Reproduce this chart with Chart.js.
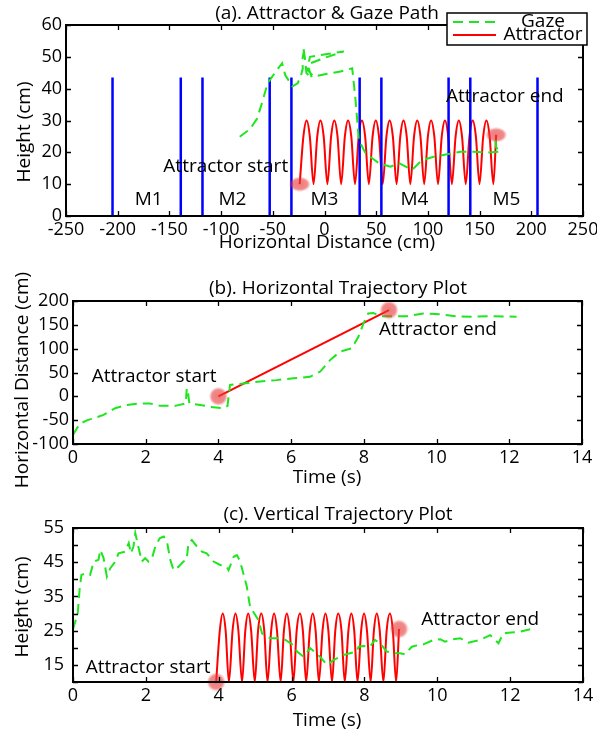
<!DOCTYPE html>
<html>
<head>
<meta charset="utf-8">
<script src="https://cdn.jsdelivr.net/npm/chart.js@4.4.1/dist/chart.umd.min.js"></script>
<style>
  body { margin: 0; background: #fff; }
  canvas { position: absolute; left: 0; }
</style>
</head>
<body>
<canvas id="chartA" width="597" height="255" style="top:0"></canvas>
<canvas id="chartB" width="597" height="240" style="top:255px"></canvas>
<canvas id="chartC" width="597" height="241" style="top:495px"></canvas>
<script>
// (a) attractor & gaze path: horizontal distance (cm) vs height (cm)
const monitorEdges = [-205, -139, -118, -53, -32, 34, 55, 120, 141, 206];
const monitorTop = 43.5;
const monitorNames = ['M1', 'M2', 'M3', 'M4', 'M5'];
const monitorNameX = [-170, -89, 0, 87, 176];

// each arch: trough, shoulder, peak, shoulder
const attractorPathX = [
  -24, -20.4, -17.3, -14.2,   -10.6, -7, -3.9, -0.8,
  2.8, 6.4, 9.5, 12.6,        16.1, 19.7, 22.8, 25.9,
  29.5, 33.1, 36.2, 39.3,     42.9, 46.5, 49.6, 52.7,
  56.3, 59.9, 63, 66.1,       69.7, 73.3, 76.4, 79.5,
  83, 86.6, 89.7, 92.8,       96.4, 100, 103.1, 106.2,
  109.8, 113.4, 116.5, 119.6, 123.2, 126.8, 129.9, 133,
  136.6, 140.2, 143.3, 146.4, 149.9, 153.5, 156.6, 159.7,
  163.3, 166];
const attractorPathY = [
  10, 25, 30, 25,  10, 25, 30, 25,
  10, 25, 30, 25,  10, 25, 30, 25,
  10, 25, 30, 25,  10, 25, 30, 25,
  10, 25, 30, 25,  10, 25, 30, 25,
  10, 25, 30, 25,  10, 25, 30, 25,
  10, 25, 30, 25,  10, 25, 30, 25,
  10, 25, 30, 25,  10, 25, 30, 25,
  10, 25.5];

const gazePathX = [-82, -72, -65, -60, -55, -47, -41, -38, -31, -26,
  -23, -21, -21.5, -20, -20.5, -18.5, -17.5, -12, -16, -13.5,
  -0.6, 18.7, -14, -17, -10.3, 2.6, 15.5, 26.8, 30, 33.2,
  39.7, 52.5, 63.8, 71.9, 84.8, 94.5, 105.7, 118.7, 131.5, 144.4,
  157.3, 170.2, 166, 165.5, 166];
const gazePathY = [24.9, 27.3, 30.7, 36, 41.7, 45.4, 48, 44.3, 40.7, 41.7,
  43.8, 46.4, 49, 51.7, 53.2, 48.5, 44.9, 43.3, 47, 48,
  49.6, 51.7, 50, 46, 43.8, 44.7, 45.4, 46.4, 36.5, 23.9,
  19.7, 16.6, 15.5, 16.6, 14.5, 17.6, 18.6, 19.4, 20.2, 20.2,
  19.9, 20.2, 21.5, 23.5, 25];

// (b) horizontal trajectory: time (s) vs horizontal distance (cm)
const attractorTimeB = [4, 8.69];
const attractorHorizB = [0, 181];
const gazeTimeB = [0, 0.1, 0.2, 0.4, 0.57, 0.84, 1.16, 1.48, 1.85, 2.12,
  2.4, 2.81, 3.1, 3.13, 3.16, 3.2, 3.5, 3.77, 4.14, 4.25,
  4.28, 4.32, 4.69, 5.15, 5.6, 6.06, 6.52, 6.8, 7.07, 7.35,
  7.67, 7.85, 7.99, 8.12, 8.26, 8.45, 8.72, 9.18, 9.64, 10.1,
  10.55, 11.0, 11.47, 12.2];
const gazeHorizB = [-81, -68, -57, -50, -46, -39, -25, -18, -15, -15,
  -20, -20, -15, 17, 10, -15, -18, -22, -25, -20,
  0, 24, 27, 31, 34, 38, 41, 52, 76, 94,
  101, 125, 153, 174, 175, 168, 168, 168, 174, 172,
  168, 167, 168, 167];

// (c) vertical trajectory: time (s) vs height (cm)
const attractorTimeC = [
  3.93, 4.03, 4.11, 4.19,  4.28, 4.38, 4.46, 4.54,
  4.64, 4.73, 4.81, 4.89,  4.99, 5.08, 5.17, 5.25,
  5.34, 5.44, 5.52, 5.6,   5.7, 5.79, 5.87, 5.95,
  6.05, 6.14, 6.23, 6.31,  6.4, 6.5, 6.58, 6.66,
  6.75, 6.85, 6.93, 7.01,  7.11, 7.2, 7.28, 7.37,
  7.46, 7.56, 7.64, 7.72,  7.81, 7.91, 7.99, 8.07,
  8.17, 8.26, 8.34, 8.42,  8.52, 8.61, 8.7, 8.78,
  8.87, 8.95];
const attractorHeightC = [
  10, 25, 30, 25,  10, 25, 30, 25,
  10, 25, 30, 25,  10, 25, 30, 25,
  10, 25, 30, 25,  10, 25, 30, 25,
  10, 25, 30, 25,  10, 25, 30, 25,
  10, 25, 30, 25,  10, 25, 30, 25,
  10, 25, 30, 25,  10, 25, 30, 25,
  10, 25, 30, 25,  10, 25, 30, 25,
  10, 25.5];
const gazeTimeC = [0, 0.13, 0.18, 0.23, 0.36, 0.47, 0.57, 0.7, 0.75, 0.84,
  0.93, 1.02, 1.16, 1.25, 1.43, 1.53, 1.59, 1.66, 1.71, 1.77,
  1.89, 1.98, 2.07, 2.17, 2.26, 2.38, 2.49, 2.58, 2.67, 2.76,
  2.9, 3.03, 3.12, 3.17, 3.26, 3.4, 3.54, 3.67, 3.86, 4.04,
  4.22, 4.27, 4.41, 4.5, 4.59, 4.77, 4.86, 5.09, 5.19, 5.41,
  5.69, 5.83, 6.05, 6.15, 6.33, 6.51, 6.78, 6.97, 7.15, 7.42,
  7.79, 7.84, 7.97, 8.15, 8.29, 8.43, 8.61, 8.8, 8.98, 9.11,
  9.3, 9.48, 9.62, 9.9, 10.08, 10.21, 10.44, 10.63, 10.85, 11.18,
  11.45, 11.68, 11.81, 11.95, 12.27, 12.55];
const gazeHeightC = [25.4, 30.1, 36.9, 41.3, 41.8, 41.3, 45.2, 45.7, 48.6, 46.2,
  40.8, 43.2, 45.2, 47.6, 48.1, 50.6, 47.6, 49.6, 53.5, 50.6,
  45.2, 46.2, 45.2, 46.2, 49.6, 52, 52.5, 51, 45.7, 42.7,
  43.7, 45.2, 45.7, 50.6, 51.5, 49.6, 48.1, 47.6, 45.2, 44.2,
  43.7, 42.7, 46.6, 47.1, 45.2, 37.9, 32, 28.1, 24.2, 22.8,
  22.8, 22.3, 20.8, 18.9, 17.4, 19.9, 17.4, 15, 16.4, 17.9,
  18.9, 20.3, 20.5, 20.3, 22.3, 21.3, 18.9, 18.4, 18.4, 18.1,
  20.3, 20.8, 21, 22.3, 22.5, 21.8, 22.5, 22.8, 21.5, 22.3,
  23.7, 21.3, 24.2, 24.4, 24.7, 25.4];

const GREEN = '#1ee61e';
const RED = '#ff0000';
const BLUE = '#0000ff';
const FONT = '"Open Sans", "Noto Sans", sans-serif';
const tickFont = { family: FONT, size: 18 };

function pts(xs, ys) {
  return xs.map((x, i) => ({ x: x, y: ys[i] }));
}
function ends(xs, ys) {
  const n = xs.length - 1;
  return [{ x: xs[0], y: ys[0] }, { x: xs[n], y: ys[n] }];
}

// soft red blob used for the start / end markers
function blob(w, h) {
  const c = document.createElement('canvas');
  c.width = w; c.height = h;
  const g = c.getContext('2d');
  g.translate(w / 2, h / 2);
  g.scale(w / 2, h / 2);
  const grad = g.createRadialGradient(0, 0, 0, 0, 0, 1);
  grad.addColorStop(0, 'rgba(232,60,60,0.68)');
  grad.addColorStop(0.7, 'rgba(232,60,60,0.6)');
  grad.addColorStop(1, 'rgba(232,60,60,0)');
  g.fillStyle = grad;
  g.beginPath();
  g.arc(0, 0, 1, 0, Math.PI * 2);
  g.fill();
  return c;
}

function fixAxis(size) {
  return function (scale) {
    if (scale.isHorizontal()) scale.height = size; else scale.width = size;
    scale.paddingLeft = 0; scale.paddingRight = 0;
    scale.paddingTop = 0; scale.paddingBottom = 0;
  };
}

function axis(min, max, step, size, pad, cb) {
  const ticks = { stepSize: step, autoSkip: false, maxRotation: 0, padding: pad, color: '#000', font: tickFont };
  if (cb) ticks.callback = cb;
  return {
    type: 'linear', min: min, max: max, ticks: ticks,
    grid: { display: false, drawTicks: false },
    border: { display: false },
    afterFit: fixAxis(size)
  };
}

// frame, inward ticks, titles, annotations, legend
function decor(cfg) {
  return {
    id: 'decor',
    afterDatasetsDraw(chart) {
      const ctx = chart.ctx, a = chart.chartArea;
      const xs = chart.scales.x, ys = chart.scales.y;
      ctx.save();
      ctx.strokeStyle = '#000';
      ctx.lineWidth = 1.3;
      ctx.beginPath();
      xs.ticks.forEach(t => {
        const p = Math.round(xs.getPixelForValue(t.value)) + 0.5;
        ctx.moveTo(p, a.bottom); ctx.lineTo(p, a.bottom - 5);
        ctx.moveTo(p, a.top); ctx.lineTo(p, a.top + 5);
      });
      ys.ticks.forEach(t => {
        const p = Math.round(ys.getPixelForValue(t.value)) + 0.5;
        ctx.moveTo(a.left, p); ctx.lineTo(a.left + 5, p);
        ctx.moveTo(a.right, p); ctx.lineTo(a.right - 5, p);
      });
      ctx.stroke();
      ctx.lineWidth = 2;
      ctx.strokeRect(a.left, a.top, a.right - a.left, a.bottom - a.top);

      ctx.fillStyle = '#000';
      ctx.font = '19px ' + FONT;
      ctx.textAlign = 'center';
      ctx.textBaseline = 'middle';
      ctx.fillText(cfg.title[0], cfg.title[1], cfg.title[2]);
      ctx.fillText(cfg.xTitle[0], cfg.xTitle[1], cfg.xTitle[2]);
      cfg.notes.forEach(n => {
        ctx.fillText(n[0], xs.getPixelForValue(n[1]), ys.getPixelForValue(n[2]));
      });
      ctx.save();
      ctx.translate(cfg.yTitle[1], cfg.yTitle[2]);
      ctx.rotate(-Math.PI / 2);
      ctx.fillText(cfg.yTitle[0], 0, 0);
      ctx.restore();

      if (cfg.legend) {
        const L = cfg.legend;
        ctx.fillStyle = '#fff';
        ctx.fillRect(L.x, L.y, L.w, L.h);
        ctx.lineWidth = 1.5;
        ctx.strokeStyle = '#000';
        ctx.strokeRect(L.x, L.y, L.w, L.h);
        chart.data.datasets.filter(d => d.inLegend).forEach((d, i) => {
          const yy = L.y + 9 + i * 13;
          ctx.strokeStyle = d.borderColor;
          ctx.lineWidth = 2;
          ctx.setLineDash(d.borderDash || []);
          ctx.beginPath();
          ctx.moveTo(L.x + 6, yy); ctx.lineTo(L.x + 49, yy);
          ctx.stroke();
          ctx.setLineDash([]);
          ctx.fillStyle = '#000';
          ctx.fillText(d.label, L.x + 96, yy);
        });
      }
      ctx.restore();
    }
  };
}

function gazeSet(data) {
  return { label: 'Gaze', inLegend: true, data: data, showLine: true, borderColor: GREEN,
    borderWidth: 2, borderDash: [10, 6], pointRadius: 0, order: 1 };
}
function attractorSet(data, smooth) {
  const d = { label: 'Attractor', inLegend: true, data: data, showLine: true, borderColor: RED,
    borderWidth: 2, pointRadius: 0, order: 3 };
  if (smooth) d.cubicInterpolationMode = 'monotone';
  return d;
}
function markerSet(data, img) {
  return { label: 'Markers', data: data, pointStyle: img, pointRadius: 9,
    showLine: false, clip: false, order: 0 };
}

const baseOptions = {
  responsive: false,
  animation: false,
  events: [],
  plugins: { legend: { display: false }, tooltip: { enabled: false } }
};

// panel (a)
const edgeData = [];
monitorEdges.forEach(e => {
  edgeData.push({ x: e, y: 0 }, { x: e, y: monitorTop }, { x: e, y: null });
});
const notesA = [['Attractor start', -95.5, 15.4], ['Attractor end', 174.4, 37.5]];
monitorNames.forEach((m, i) => notesA.push([m, monitorNameX[i], 5]));

new Chart(document.getElementById('chartA'), {
  type: 'scatter',
  data: {
    datasets: [
      markerSet(ends(attractorPathX, attractorPathY), blob(22, 15)),
      gazeSet(pts(gazePathX, gazePathY)),
      { label: 'Monitor edges', data: edgeData, showLine: true, borderColor: BLUE,
        borderWidth: 2.5, pointRadius: 0, spanGaps: false, order: 2 },
      attractorSet(pts(attractorPathX, attractorPathY), true)
    ]
  },
  options: Object.assign({}, baseOptions, {
    layout: { padding: { top: 25, right: 14, left: 0, bottom: 0 } },
    scales: {
      x: axis(-250, 250, 50, 39, 3),
      y: axis(0, 60, 10, 66, 4)
    }
  }),
  plugins: [decor({
    title: ['(a). Attractor & Gaze Path', 327, 14],
    xTitle: ['Horizontal Distance (cm)', 327, 243],
    yTitle: ['Height (cm)', 25, 132],
    notes: notesA,
    legend: { x: 447, y: 13, w: 140, h: 32 }
  })]
});

// panel (b)
new Chart(document.getElementById('chartB'), {
  type: 'scatter',
  data: {
    datasets: [
      markerSet(ends(attractorTimeB, attractorHorizB), blob(19, 19)),
      gazeSet(pts(gazeTimeB, gazeHorizB)),
      attractorSet(pts(attractorTimeB, attractorHorizB), false)
    ]
  },
  options: Object.assign({}, baseOptions, {
    layout: { padding: { top: 46, right: 15, left: 0, bottom: 0 } },
    scales: {
      x: axis(0, 14, 2, 51, 3),
      y: axis(-100, 200, 50, 73, 4)
    }
  }),
  plugins: [decor({
    title: ['(b). Horizontal Trajectory Plot', 338, 34],
    xTitle: ['Time (s)', 327, 223],
    yTitle: ['Horizontal Distance (cm)', 23, 125],
    notes: [['Attractor start', 2.23, 41], ['Attractor end', 10.04, 140.5]]
  })]
});

// panel (c)
new Chart(document.getElementById('chartC'), {
  type: 'scatter',
  data: {
    datasets: [
      markerSet(ends(attractorTimeC, attractorHeightC), blob(19, 19)),
      gazeSet(pts(gazeTimeC, gazeHeightC)),
      attractorSet(pts(attractorTimeC, attractorHeightC), true)
    ]
  },
  options: Object.assign({}, baseOptions, {
    layout: { padding: { top: 33, right: 14, left: 0, bottom: 0 } },
    scales: {
      x: axis(0, 14, 2, 54, 3),
      y: axis(10, 55, 5, 73, 9, v => (v % 10 === 5 ? v : ''))
    }
  }),
  plugins: [decor({
    title: ['(c). Vertical Trajectory Plot', 338, 20],
    xTitle: ['Time (s)', 327, 226],
    yTitle: ['Height (cm)', 23, 112],
    notes: [['Attractor start', 2.06, 14.1], ['Attractor end', 11.18, 28.1]]
  })]
});
</script>
</body>
</html>
